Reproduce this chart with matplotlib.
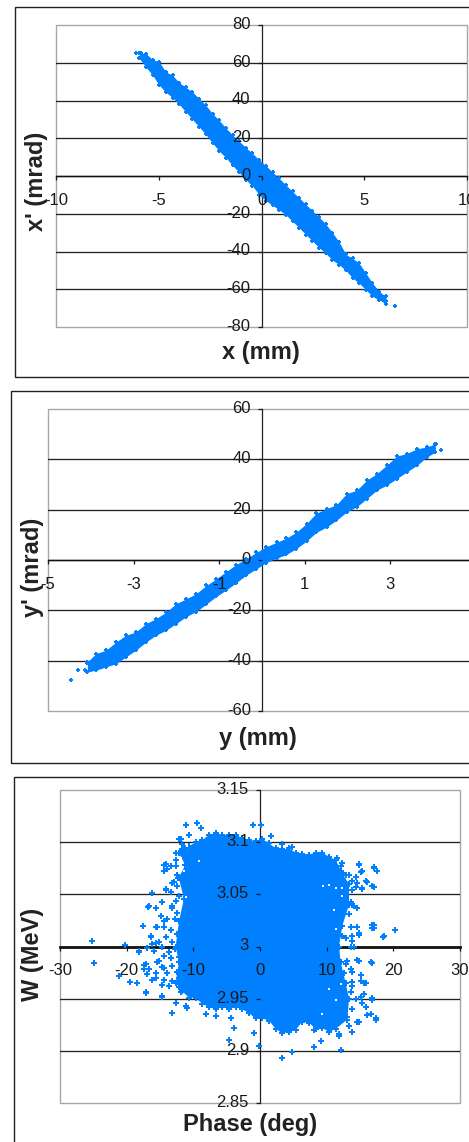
#!/usr/bin/env python3
"""Three phase-space plots (x-x', y-y', phase-W) stacked in bordered panels."""

import matplotlib
matplotlib.use("Agg")
import matplotlib.pyplot as plt
from matplotlib.patches import Rectangle
from matplotlib.transforms import ScaledTranslation

W_PX, H_PX = 469, 1142
BLUE = "#0080FF"
GREY = "#A6A6A6"

plt.rcParams["font.family"] = ["Liberation Sans", "DejaVu Sans"]

# x - x' : upper and lower edge of the dense band, then the stray points
xx_band_x = [-5.95, -5.63, -5.30, -4.98, -4.66, -4.33, -4.01, -3.68, -3.36, -3.03, -2.71, -2.38, -2.06,
             -1.74, -1.41, -1.09, -0.76, -0.44, -0.11, 0.21, 0.54, 0.86, 1.18, 1.51, 1.83, 2.16, 2.48,
             2.81, 3.13, 3.45, 3.78, 4.10, 4.43, 4.75, 5.08, 5.40, 5.73, 6.05]
xx_band_top = [65.3, 64.9, 61.7, 60.5, 55.2, 53.4, 49.5, 47.0, 44.5, 41.0, 37.5, 33.0, 29.5,
               25.5, 21.7, 18.5, 15.0, 12.0, 8.5, 5.5, 2.0, -1.2, -4.7, -8.2, -11.6, -15.0, -18.5,
               -21.8, -25.5, -30.0, -35.0, -41.5, -43.6, -46.2, -51.5, -56.8, -61.2, -63.8]
xx_band_bot = [62.3, 57.8, 53.4, 48.1, 44.5, 41.5, 38.0, 34.0, 30.0, 26.0, 22.0, 17.5, 13.2,
               9.8, 5.6, 2.0, -2.0, -5.3, -10.0, -13.0, -15.5, -18.0, -20.5, -24.0, -27.5, -31.0, -34.5,
               -38.0, -41.0, -44.5, -47.0, -50.0, -54.0, -56.8, -60.3, -63.8, -65.6, -67.7]
xx_stray_x = [6.49, 6.05, 5.80, -6.10, -5.85, -5.60, -5.05, 5.50]
xx_stray_y = [-68.8, -66.0, -63.5, 65.0, 65.2, 61.0, 59.5, -60.0]

# y - y'
yy_band_x = [-4.08, -3.88, -3.65, -3.41, -3.18, -2.95, -2.71, -2.48, -2.24, -2.01, -1.77, -1.54, -1.30,
             -1.07, -0.84, -0.60, -0.37, -0.13, 0.10, 0.34, 0.57, 0.80, 1.04, 1.27, 1.51, 1.74, 1.98,
             2.21, 2.45, 2.68, 2.91, 3.15, 3.38, 3.62, 3.85, 4.05]
yy_band_top = [-40.5, -37.2, -35.9, -32.6, -29.9, -28.6, -25.3, -23.3, -20.7, -17.4, -15.4, -13.4, -10.1,
               -7.5, -4.6, -1.8, 0.5, 3.0, 5.3, 7.0, 8.7, 11.0, 14.5, 18.6, 20.4, 22.0, 26.4,
               27.7, 31.7, 34.3, 37.6, 41.3, 42.3, 44.2, 44.9, 46.2]
yy_band_bot = [-44.5, -43.8, -42.5, -41.2, -38.5, -35.9, -32.6, -29.9, -27.9, -25.3, -22.5, -20.5, -17.5,
               -14.5, -12.0, -9.0, -6.0, -3.5, -1.0, 0.7, 2.2, 4.5, 7.5, 11.0, 13.1, 15.8, 19.1,
               21.1, 24.4, 27.7, 29.7, 32.3, 35.0, 37.6, 40.9, 42.9]
yy_stray_x = [-4.47, -4.29, -4.13, -4.08, 4.18, 4.07]
yy_stray_y = [-47.8, -43.8, -43.8, -40.8, 43.9, 46.0]

# phase - W : outline of the solid core, clockwise from its upper left
pw_core_x = [-11.65, -10.65, -9.65, -8.65, -7.65, -6.65, -5.65, -4.65, -3.65, -2.65, -1.65, -0.65,
             0.35, 1.35, 2.35, 3.35, 4.35, 5.35, 6.35, 7.35, 8.35, 9.35, 10.35, 11.35,
             12.35, 13.35, 13.35, 12.35, 11.85, 12.1, 12.85, 13.35, 13.1,
             11.35, 10.35, 9.35, 8.35, 7.35, 6.35, 5.35, 4.35, 3.35, 2.35, 1.35, 0.35,
             -0.65, -1.65, -2.65, -3.65, -4.65, -5.65, -6.65, -7.65, -8.65, -9.65, -10.65, -11.65,
             -12.65, -12.15, -12.65, -12.15, -11.4, -12.2, -11.2, -12.2]
pw_core_y = [3.098, 3.096, 3.100, 3.102, 3.107, 3.109, 3.107, 3.107, 3.107, 3.104, 3.102, 3.101,
             3.103, 3.099, 3.094, 3.093, 3.094, 3.090, 3.089, 3.088, 3.090, 3.090, 3.086, 3.083,
             3.070, 3.060, 3.040, 3.020, 3.000, 2.985, 2.965, 2.950, 2.930,
             2.921, 2.918, 2.922, 2.921, 2.927, 2.928, 2.920, 2.918, 2.917, 2.921, 2.929, 2.931,
             2.931, 2.936, 2.940, 2.942, 2.940, 2.942, 2.940, 2.942, 2.945, 2.951, 2.951, 2.957,
             2.965, 2.985, 3.000, 3.024, 3.046, 3.066, 3.078, 3.090]
pw_stray_x = [-11.05, -9.4, -8.9, -10.65, -11.9, -1.05, 0.1, 1.6, 3.35, 4.85,
              14.85, 17.1, 17.6, 15.35, 14.35, 16.1, 17.1, 15.35, 14.6, 13.85, 12.1, 12.85,
              13.85, 14.6, 17.1, 17.1, 20.2, 18.45, 14.6, 14.85, 13.85, 12.85, 14.1,
              13.1, 14.85, 16.75, 13.85, 15.1, 15.85, 13.85, 15.6, 16.75, 14.35, 16.1, 17.35,
              14.85, 13.85,
              11.85, 12.1, 9.1, 8.1, 4.85, 3.35, -0.15, -0.9, -4.65, -3.9, -4.4, -6.65, -8.15,
              -10.9, -13.25, -12.65, -14.65, -17.15,
              -25.15, -24.9, -20.25, -21.15, -19.55, -18.4, -17.4, -16.9, -15.65, -14.65, -13.65,
              -15.15, -14.4, -18.15, -16.9, -15.65, -14.65, -13.65, -16.4, -17.5, -15.4, -14.4,
              -16.75, -14.65, -16.15, -14.15, -13.15, -14.4, -13.9, -12.9,
              # left edge, upper half
              -14.15, -13.4, -14.4, -12.65, -13.15, -12.4, -14.15, -13.4, -16.65, -14.7, -15.65, -13.2,
              -12.15, -11.7, -12.65, -12.65, -12.3, -12.5, -12.2, -12.6, -12.4, -12.7,
              # left edge, lower half
              -17.55, -14.9, -14.4, -15.65, -13.95, -13.4, -16.4, -16.2, -15.15, -14.15, -13.2,
              -18.15, -15.9, -14.4, -13.4, -17.15, -17.4, -16.65, -15.4, -14.7, -15.65, -13.95, -13.2,
              -12.15, -13.2, -12.15, -14.4, -16.2, -17.15, -14.7, -11.9, -12.65, -11.15, -13.65, -12.15,
              -12.4, -12.7, -12.2, -12.5,
              # right edge, upper half
              14.85, 17.1, 17.6, 15.1, 13.8, 15.85, 16.8, 15.3, 14.35, 12.1, 11.55, 12.3, 13.35,
              14.1, 13.6, 12.6, 13.35, 16.8, 16.8, 18.6, 14.55, 14.85, 13.6, 13.8, 12.3,
              # right edge, lower half
              13.6, 16.6, 14.55, 12.85, 13.6, 12.6, 15.1, 15.6, 13.8, 13.6, 15.3, 15.85, 13.8, 16.6,
              17.35, 13.1, 14.55, 13.35, 11.85, 8.1, 10.35, 12.1, 15.1, 16.8]
pw_stray_y = [3.116, 3.118, 3.114, 3.107, 3.103, 3.116, 3.116, 3.106, 3.098, 3.095,
              3.078, 3.075, 3.072, 3.072, 3.067, 3.062, 3.057, 3.056, 3.061, 3.054, 3.077, 3.069,
              3.040, 3.037, 3.021, 3.018, 3.016, 3.009, 3.019, 3.011, 3.005, 3.008, 3.000,
              2.986, 2.986, 2.984, 2.976, 2.973, 2.965, 2.966, 2.954, 2.949, 2.950, 2.934, 2.930,
              2.928, 2.918,
              2.914, 2.901, 2.909, 2.904, 2.899, 2.893, 2.905, 2.917, 2.910, 2.922, 2.931, 2.933,
              2.935, 2.941, 2.936, 2.946, 2.952, 2.955,
              3.005, 2.984, 3.001, 2.972, 2.966, 2.965, 2.982, 2.974, 2.970, 2.963, 2.962,
              2.986, 2.979, 2.995, 2.999, 3.003, 3.000, 2.995, 3.010, 3.020, 3.019, 3.024,
              3.038, 3.043, 3.051, 3.054, 3.037, 3.078, 3.074, 3.062,
              # left edge, upper half
              3.079, 3.077, 3.072, 3.077, 3.061, 3.069, 3.055, 3.052, 3.039, 3.043, 3.037, 3.039,
              3.103, 3.093, 3.090, 3.083, 3.066, 3.058, 3.048, 3.044, 3.032, 3.026,
              # left edge, lower half
              3.020, 3.029, 3.019, 3.019, 3.026, 3.016, 3.009, 3.002, 3.004, 3.009, 3.004,
              2.996, 2.996, 2.991, 2.989, 2.983, 2.978, 2.978, 2.985, 2.980, 2.975, 2.975, 2.981,
              2.985, 2.967, 2.970, 2.968, 2.968, 2.956, 2.953, 2.956, 2.946, 2.943, 2.962, 2.961,
              3.012, 2.998, 2.990, 2.976,
              # right edge, upper half
              3.079, 3.076, 3.072, 3.071, 3.063, 3.063, 3.058, 3.055, 3.057, 3.072, 3.085, 3.080, 3.069,
              3.039, 3.043, 3.039, 3.031, 3.021, 3.018, 3.010, 3.019, 3.013, 3.019, 3.010, 3.010,
              # right edge, lower half
              3.000, 2.985, 2.987, 2.983, 2.978, 2.975, 2.967, 2.965, 2.962, 2.956, 2.946, 2.942, 2.940, 2.935,
              2.931, 2.932, 2.928, 2.924, 2.916, 2.920, 2.924, 2.932, 2.952, 2.951]
# small white gaps left in the cloud near its edges
pw_gap_x = [-11.4, -11.9, -10.95, -9.15, -12.45, -11.15, 10.35, 9.45, 11.4, 12.3, 12.3, 11.1, 11.35,
            10.35, 9.3, 12.1, 11.35, -12.45]
pw_gap_y = [3.072, 3.085, 3.096, 3.082, 3.053, 3.047, 3.059, 3.058, 3.056, 3.056, 3.048, 3.035, 3.017,
            2.959, 2.935, 2.964, 2.949, 2.981]

xx_xticks = [-10, -5, 0, 5, 10]
xx_xlabels = ["-10", "-5", "0", "5", "10"]
xx_yticks = [-80, -60, -40, -20, 0, 20, 40, 60, 80]
xx_ylabels = ["-80", "-60", "-40", "-20", "0", "20", "40", "60", "80"]

yy_xticks = [-5, -3, -1, 1, 3, 5]
yy_xlabels = ["-5", "-3", "-1", "1", "3", "5"]
yy_yticks = [-60, -40, -20, 0, 20, 40, 60]
yy_ylabels = ["-60", "-40", "-20", "0", "20", "40", "60"]

pw_xticks = [-30, -20, -10, 0, 10, 20, 30]
pw_xlabels = ["-30", "-20", "-10", "0", "10", "20", "30"]
pw_yticks = [2.85, 2.9, 2.95, 3, 3.05, 3.1, 3.15]
pw_ylabels = ["2.85", "2.9", "2.95", "3", "3.05", "3.1", "3.15"]


def fx(px):
    return px / W_PX


def fy(py):
    return 1 - py / H_PX


def panel(fig, frame, box, xlim, ylim, xticks, xlabels, yticks, ylabels,
          xlabel, xlabel_at, ylabel, ylabel_at, zero_lw=1.0):
    """frame and box are left, top, right, bottom in image pixels."""
    fig.add_artist(Rectangle((fx(frame[0]), fy(frame[3])), fx(frame[2] - frame[0]),
                             (frame[3] - frame[1]) / H_PX, transform=fig.transFigure,
                             fill=False, edgecolor="#222222", linewidth=1.0))

    left, top, right, bottom = box
    ax = fig.add_axes([fx(left), fy(bottom), fx(right - left), (bottom - top) / H_PX])
    ax.set_xlim(*xlim)
    ax.set_ylim(*ylim)
    ax.patch.set_edgecolor(GREY)
    ax.patch.set_linewidth(1.0)

    for name in ("top", "right"):
        ax.spines[name].set_visible(False)
    ax.spines["left"].set_position(("data", 0))
    ax.spines["bottom"].set_position(("data", ylim[0] + (ylim[1] - ylim[0]) / 2))
    ax.spines["left"].set_zorder(1)
    ax.spines["bottom"].set_zorder(1)
    ax.spines["left"].set_linewidth(0.9)
    ax.spines["bottom"].set_linewidth(zero_lw)
    ax.spines["left"].set_color("#222222")
    ax.spines["bottom"].set_color("#111111")

    for t in yticks[1:-1]:
        ax.axhline(t, color="#222222", linewidth=0.95, zorder=1)

    ax.set_xticks(xticks, xlabels)
    ax.set_yticks(yticks, ylabels)
    ax.tick_params(axis="x", direction="out", length=3, width=0.9, pad=9, labelsize=12, colors="#1a1a1a")
    ax.tick_params(axis="y", direction="out", length=3, width=0.9, pad=5, labelsize=12, colors="#1a1a1a")
    ax.set_axisbelow(False)

    # value labels sit a little above their gridlines
    lift = ScaledTranslation(0, 1.5 / 72, fig.dpi_scale_trans)
    for lbl in ax.get_yticklabels():
        lbl.set_transform(lbl.get_transform() + lift)

    fig.text(fx(xlabel_at[0]), fy(xlabel_at[1]), xlabel, ha="center", va="center",
             fontsize=17, fontweight="bold", color="#222222")
    fig.text(fx(ylabel_at[0]), fy(ylabel_at[1]), ylabel, ha="center", va="center",
             rotation=90, fontsize=17, fontweight="bold", color="#222222")
    return ax


fig = plt.figure(figsize=(W_PX / 100, H_PX / 100), dpi=100, facecolor="white")

ax1 = panel(fig, (15, 7, 480, 377), (56, 25, 467, 327), (-10, 10), (-80, 80),
            xx_xticks, xx_xlabels, xx_yticks, xx_ylabels,
            "x (mm)", (261, 353), "x' (mrad)", (36, 181))
ax1.fill_between(xx_band_x, xx_band_bot, xx_band_top, color=BLUE, linewidth=0, zorder=2)
ax1.scatter(xx_band_x + xx_band_x + xx_stray_x, xx_band_top + xx_band_bot + xx_stray_y,
            marker="P", s=9, color=BLUE, linewidths=0, zorder=2)

ax2 = panel(fig, (11, 391, 480, 763), (48, 409, 476, 711), (-5, 5), (-60, 60),
            yy_xticks, yy_xlabels, yy_yticks, yy_ylabels,
            "y (mm)", (258, 739), "y' (mrad)", (33, 567))
ax2.fill_between(yy_band_x, yy_band_bot, yy_band_top, color=BLUE, linewidth=0, zorder=2)
ax2.scatter(yy_band_x + yy_band_x + yy_stray_x, yy_band_top + yy_band_bot + yy_stray_y,
            marker="P", s=9, color=BLUE, linewidths=0, zorder=2)

ax3 = panel(fig, (14, 777, 480, 1150), (60, 790, 460, 1103), (-30, 30), (2.85, 3.15),
            pw_xticks, pw_xlabels, pw_yticks, pw_ylabels,
            "Phase (deg)", (250, 1124), "W (MeV)", (33, 954), zero_lw=2.0)
ax3.fill(pw_core_x, pw_core_y, color=BLUE, linewidth=0, zorder=2)
ax3.scatter(pw_core_x + pw_stray_x, pw_core_y + pw_stray_y,
            marker="P", s=20, color=BLUE, linewidths=0, zorder=2)
ax3.scatter(pw_gap_x, pw_gap_y, marker="s", s=3, color="white", linewidths=0, zorder=2.1)

fig.savefig("out.png", dpi=100)
